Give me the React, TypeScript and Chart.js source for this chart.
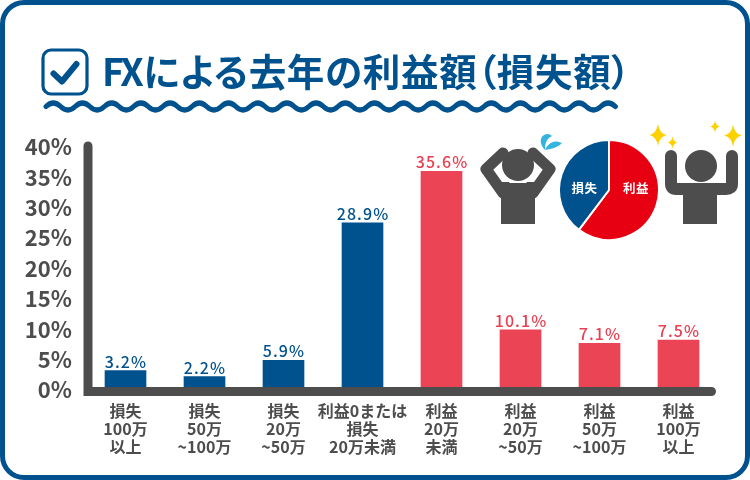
import React, { useEffect, useRef } from "react";
import { Chart, registerables } from "chart.js";

Chart.register(...registerables);

const categories = [
  ["損失", "100万", "以上"],
  ["損失", "50万", "~100万"],
  ["損失", "20万", "~50万"],
  ["利益0または", "損失", "20万未満"],
  ["利益", "20万", "未満"],
  ["利益", "20万", "~50万"],
  ["利益", "50万", "~100万"],
  ["利益", "100万", "以上"],
];
// Bar heights as drawn in the picture (the drawing differs a little from its printed labels)
const barHeights = [3.2, 2.2, 4.9, 27.5, 36.0, 9.9, 7.7, 8.2];
const valueLabels = ["3.2%", "2.2%", "5.9%", "28.9%", "35.6%", "10.1%", "7.1%", "7.5%"];
const pieLabels = ["利益", "損失"];
const pieValues = [60.3, 39.7];

const BLUE = "#00528e";
const BAR_RED = "#eb4455";
const LABEL_RED = "#e93f50";
const PIE_RED = "#e60012";
const GREY = "#4d4d4d";
const YELLOW = "#fdd000";
const FONT = '"Noto Sans CJK JP", "Noto Sans", sans-serif';
const barColors = [BLUE, BLUE, BLUE, BLUE, BAR_RED, BAR_RED, BAR_RED, BAR_RED];
const labelColors = [BLUE, BLUE, BLUE, BLUE, LABEL_RED, LABEL_RED, LABEL_RED, LABEL_RED];

const axisPlugin = {
  id: "roundAxis",
  afterDatasetsDraw(chart: any) {
    const { ctx } = chart;
    const y = chart.scales.y;
    const x = chart.scales.x;
    ctx.save();
    ctx.strokeStyle = GREY;
    ctx.lineWidth = 9;
    ctx.lineCap = "round";
    ctx.beginPath();
    ctx.moveTo(x.left + 2, y.top - 1);
    ctx.lineTo(x.left + 2, y.bottom + 1.5);
    ctx.lineTo(x.right - 6.5, y.bottom + 1.5);
    ctx.stroke();
    ctx.restore();
  },
};

const valueLabelPlugin = {
  id: "valueLabels",
  afterDatasetsDraw(chart: any) {
    const { ctx } = chart;
    const meta = chart.getDatasetMeta(0);
    ctx.save();
    ctx.font = `500 16px ${FONT}`;
    (ctx as any).letterSpacing = "1.1px";
    ctx.textAlign = "center";
    ctx.textBaseline = "alphabetic";
    meta.data.forEach((bar: any, i: number) => {
      ctx.fillStyle = labelColors[i];
      ctx.fillText(valueLabels[i], bar.x + 0.5, bar.y - 3);
    });
    ctx.restore();
  },
};

const pieTextPlugin = {
  id: "pieText",
  afterDatasetsDraw(chart: any) {
    const { ctx } = chart;
    const meta = chart.getDatasetMeta(0);
    const a = meta.data[0];
    ctx.save();
    ctx.font = `700 12.5px ${FONT}`;
    (ctx as any).letterSpacing = "0.5px";
    ctx.fillStyle = "#ffffff";
    ctx.textAlign = "center";
    ctx.textBaseline = "middle";
    ctx.fillText(pieLabels[0], a.x + 27, a.y - 2);
    ctx.fillText(pieLabels[1], a.x - 24.5, a.y - 2);
    ctx.restore();
  },
};

function wavePath() {
  let d = "M46 106.5";
  const step = 14.6;
  let x = 46;
  let up = true;
  while (x < 610) {
    const nx = x + step;
    const mid = x + step / 2;
    d += ` Q${mid} ${up ? 99.5 : 113.5} ${nx} 106.5`;
    x = nx;
    up = !up;
  }
  return d;
}

function Star({ cx, cy, r }: { cx: number; cy: number; r: number }) {
  const k = r * 0.13;
  return (
    <path
      fill={YELLOW}
      d={`M${cx} ${cy - r} Q${cx + k} ${cy - k} ${cx + r * 0.8} ${cy} Q${cx + k} ${cy + k} ${cx} ${cy + r} Q${cx - k} ${cy + k} ${cx - r * 0.8} ${cy} Q${cx - k} ${cy - k} ${cx} ${cy - r}Z`}
    />
  );
}

export default function App() {
  const barRef = useRef<HTMLCanvasElement>(null);
  const pieRef = useRef<HTMLCanvasElement>(null);

  useEffect(() => {
    document.body.style.margin = "0";
    const bar = new Chart(barRef.current as HTMLCanvasElement, {
      type: "bar",
      data: {
        labels: categories as any,
        datasets: [{ data: barHeights, backgroundColor: barColors, barThickness: 41 }],
      },
      options: {
        responsive: false,
        animation: false,
        layout: { padding: { top: 147, right: 32, left: 0, bottom: 0 } },
        plugins: { legend: { display: false }, tooltip: { enabled: false } },
        scales: {
          x: {
            grid: { display: false, drawTicks: false },
            border: { display: false },
            afterFit(s: any) {
              s.height = 90;
            },
            ticks: {
              autoSkip: false,
              maxRotation: 0,
              minRotation: 0,
              padding: 12,
              color: GREY,
              font: { family: FONT, size: 16, weight: "700", lineHeight: 1.125 },
            },
          },
          y: {
            min: 0,
            max: 40,
            grid: { display: false, drawTicks: false },
            border: { display: false },
            afterFit(s: any) {
              s.width = 86;
            },
            ticks: {
              stepSize: 5,
              padding: 14,
              color: GREY,
              font: { family: FONT, size: 22, weight: "700" },
              callback: (v: any) => `${v}%`,
            },
          },
        },
      } as any,
      plugins: [valueLabelPlugin, axisPlugin],
    });
    const pie = new Chart(pieRef.current as HTMLCanvasElement, {
      type: "pie",
      data: {
        labels: pieLabels,
        datasets: [
          {
            data: pieValues,
            backgroundColor: [PIE_RED, BLUE],
            borderColor: "#ffffff",
            borderWidth: 2,
          },
        ],
      },
      options: {
        responsive: false,
        animation: false,
        layout: { padding: 0 },
        plugins: { legend: { display: false }, tooltip: { enabled: false } },
      } as any,
      plugins: [pieTextPlugin],
    });
    return () => {
      bar.destroy();
      pie.destroy();
    };
  }, []);

  return (
    <div style={{ position: "relative", width: 750, height: 480, overflow: "hidden", background: "#fff" }}>
      <div
        style={{
          position: "absolute",
          inset: 0,
          boxSizing: "border-box",
          border: `5.5px solid ${BLUE}`,
          borderRadius: 24,
        }}
      />
      <canvas ref={barRef} width={750} height={480} style={{ position: "absolute", left: 0, top: 0 }} />
      <svg width={750} height={480} style={{ position: "absolute", left: 0, top: 0 }}>
        <rect x={43} y={50} width={44} height={44} rx={8} fill="none" stroke={BLUE} strokeWidth={3.2} />
        <path d="M53.5 73.5 L62 81.5 L76.5 64" fill="none" stroke={BLUE} strokeWidth={6} strokeLinecap="round" strokeLinejoin="round" />
        <path d={wavePath()} fill="none" stroke={BLUE} strokeWidth={5} strokeLinecap="round" />
        {/* worried person */}
        <g fill={GREY} stroke="none">
          <circle cx={518} cy={165} r={16} />
          <path d="M501 224 V197 L492 182 H544 L535 197 V224 Z" />
          <path d="M503 153 L486 169 L503 193" fill="none" stroke={GREY} strokeWidth={11} strokeLinecap="round" strokeLinejoin="round" />
          <path d="M533 153 L550 169 L533 193" fill="none" stroke={GREY} strokeWidth={11} strokeLinecap="round" strokeLinejoin="round" />
          <path d="M497 172 L510 183 H526 L539 172 L531 182 H505 Z" fill="#fff" />
        </g>
        <path fill="#35b4dd" d="M545 150 C540 145 539 138 544 135 C547 133 550 134 552 136 C546 139 545 144 545 150Z M545 150 C548 143 554 139 562 143 C558 147 552 149 545 150Z" />
        {/* happy person */}
        <g fill={GREY}>
          <circle cx={701} cy={166} r={16} />
          <path d="M683 224 V188 H717 V224 Z" />
          <path d="M671 156 V184 Q671 189 676 189 H726 Q732 189 732 184 V156" fill="none" stroke={GREY} strokeWidth={12} strokeLinecap="round" />
        </g>
        <Star cx={658} cy={135} r={11} />
        <Star cx={672.5} cy={142.5} r={6} />
        <Star cx={715} cy={126.5} r={6} />
        <Star cx={733} cy={135.5} r={11} />
      </svg>
      <canvas ref={pieRef} width={102} height={102} style={{ position: "absolute", left: 558, top: 139 }} />
      <div
        style={{
          position: "absolute",
          left: 102,
          top: 43,
          font: `700 37.5px/54px ${FONT}`,
          fontFeatureSettings: '"palt"',
          color: BLUE,
          whiteSpace: "nowrap",
        }}
      >
        <span style={{ letterSpacing: "-2.5px" }}>FX</span>
        <span style={{ marginLeft: 2, letterSpacing: "0.7px" }}>による去年の利益額（損失額）</span>
      </div>
    </div>
  );
}
